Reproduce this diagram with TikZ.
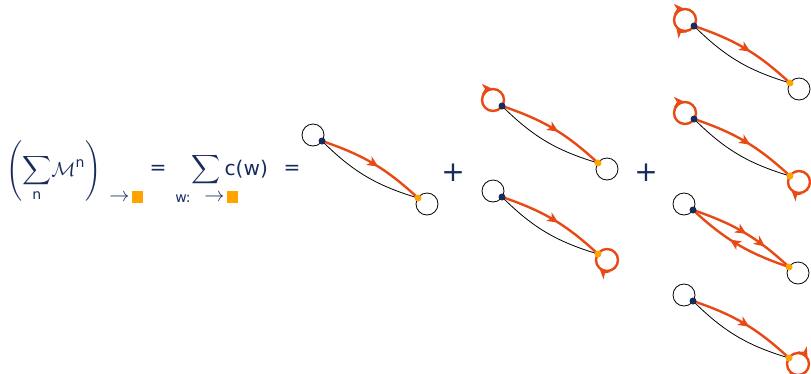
\documentclass[tikz,border=0pt]{standalone}
\usepackage{amsmath}
\usepackage{fontspec}
\setmainfont{DejaVu Sans}
\setsansfont{DejaVu Sans}
\usetikzlibrary{arrows.meta, decorations.markings}

\definecolor{navy}{RGB}{24,44,92}
\definecolor{walkcol}{RGB}{232,74,22}
\definecolor{dotorange}{RGB}{255,163,0}

\begin{document}
\begin{tikzpicture}[x=1pt, y=-1pt, >=Stealth,
    txt/.style={text=navy, font=\fontsize{14.4}{17}\selectfont, inner sep=0pt, scale=1.4, transform shape},
    small/.style={text=navy, font=\fontsize{10}{12}\selectfont, inner sep=0pt, scale=1.4, transform shape},
    edge/.style={black, line width=0.8pt},
    walk/.style={walkcol, line width=2.4pt},
    srcdot/.style={circle, fill=navy, inner sep=0pt, minimum size=7pt},
    tgtdot/.style={circle, fill=dotorange, inner sep=0pt, minimum size=7pt},
    midarrow/.style={postaction={decorate, decoration={markings,
        mark=at position #1 with {\arrow{Stealth[length=11pt, width=10pt, inset=3pt]}}}}}]
    \useasboundingbox (0,0) rectangle (811,373);

    % the formula
    \node[txt, anchor=west] (lhs) at (6,171) {$\displaystyle\left(\sum_{\text{n}}\!\mathcal{M}^{\text{n}}\right)$};
    \node[txt, anchor=west] (sub1) at (109,197) {$\rightarrow$\hspace{1.5pt}\textcolor{dotorange}{\rule[-1pt]{8pt}{8pt}}};
    \node[txt] (eq1) at (158,170) {=};
    \node[txt, anchor=west] (sum2) at (191,170) {$\displaystyle\sum$\hspace{3pt}c(w)};
    \node[small, anchor=west] (wcol) at (175,199) {w:};
    \node[txt, anchor=west] (sub2) at (204,197) {$\rightarrow$\hspace{1.5pt}\textcolor{dotorange}{\rule[-1pt]{8pt}{8pt}}};
    \node[txt] (eq2) at (292,170) {=};
    \node[txt, font=\fontsize{20}{22}\selectfont] (plus1) at (453,173) {+};
    \node[txt, font=\fontsize{20}{22}\selectfont] (plus2) at (646,173) {+};

    % the seven walks
    \foreach \i/\x/\y in {1/322/141, 2/502/106, 3/502/197, 4/694/26, 5/694/119, 6/693/210, 7/693/301}{
        \coordinate (s\i) at (\x,\y);
        \coordinate (t\i) at (\x+96,\y+57);
        \coordinate (ls\i) at (\x-9,\y-6);
        \coordinate (lt\i) at (\x+105,\y+63);
    }
    \foreach \i in {1,3,6,7} \draw[edge] (ls\i) circle (11pt);
    \foreach \i in {1,2,4,6} \draw[edge] (lt\i) circle (11pt);
    \foreach \i in {1,2,3,4,5,7} \draw[edge] (s\i) to[bend right=14] (t\i);
    \foreach \i in {1,2,3,4,5,7} \draw[walk, midarrow=0.55] (s\i) to[bend left=12] (t\i);
    \draw[walk, midarrow=0.52, midarrow=0.72] (s6) to[bend left=12] (t6);
    \draw[walk, midarrow=0.58] (t6) to[bend left=12] (s6);

    % orange loops, clockwise
    \draw[walk, midarrow=0.75] (ls2) ++(11pt,0) arc[start angle=0, end angle=-360, radius=11pt];
    \draw[walk, midarrow=0.375] (lt3) ++(11pt,0) arc[start angle=0, end angle=-360, radius=11pt];
    \draw[walk, midarrow=0.75, midarrow=0.4] (ls4) ++(11pt,0) arc[start angle=0, end angle=-360, radius=11pt];
    \draw[walk, midarrow=0.75] (ls5) ++(11pt,0) arc[start angle=0, end angle=-360, radius=11pt];
    \draw[walk, midarrow=0.375] (lt5) ++(11pt,0) arc[start angle=0, end angle=-360, radius=11pt];
    \draw[walk, midarrow=0.92, midarrow=0.4] (lt7) ++(11pt,0) arc[start angle=0, end angle=-360, radius=11pt];

    \foreach \i in {1,...,7}{
        \node[srcdot] (src\i) at (s\i) {};
        \node[tgtdot] (tgt\i) at (t\i) {};
    }
\end{tikzpicture}
\end{document}
